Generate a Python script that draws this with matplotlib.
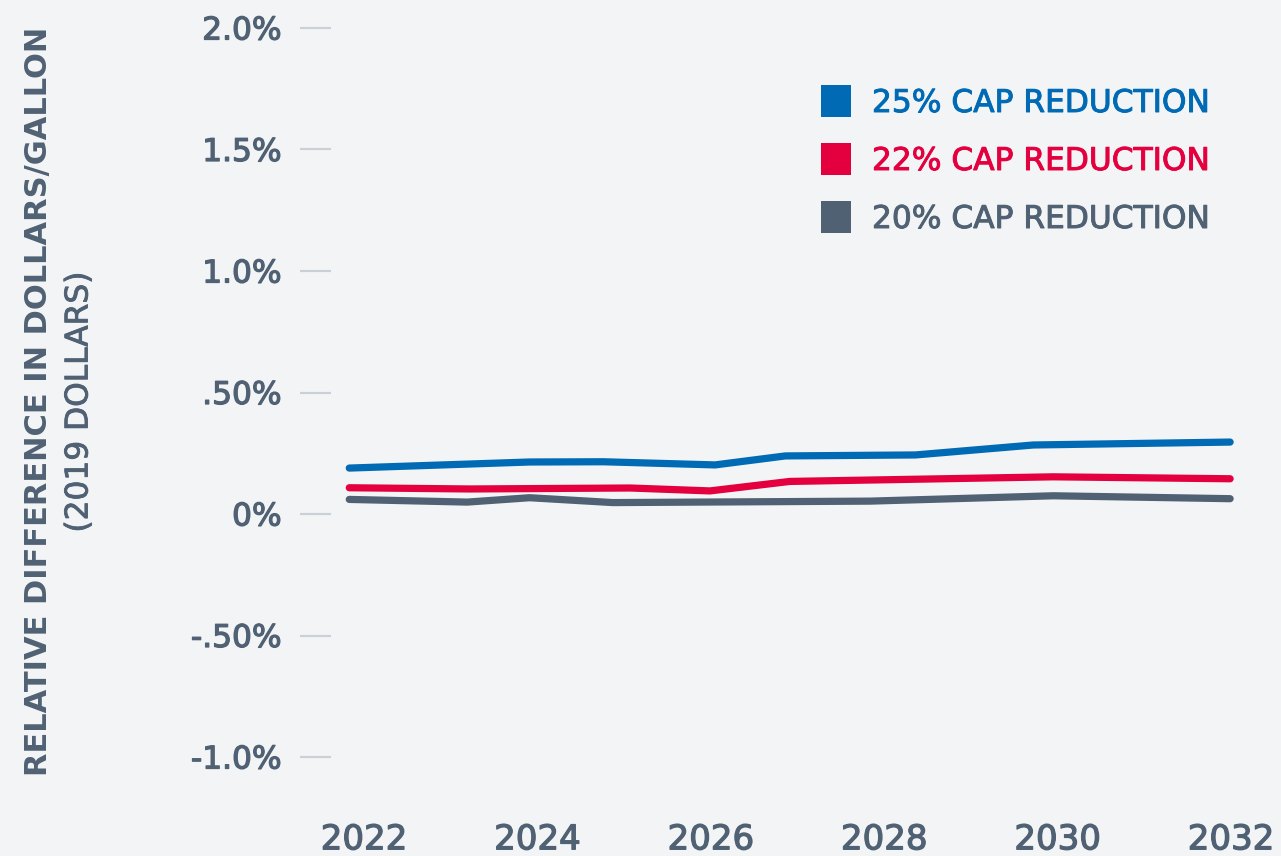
import matplotlib
matplotlib.use("Agg")
import matplotlib.pyplot as plt
import matplotlib.patheffects as pe
from matplotlib.patches import Rectangle

# ---- data ----
years_25 = [2021.83, 2023.91, 2024.76, 2026.05, 2026.86, 2028.36, 2029.72, 2031.99]
vals_25 = [0.189, 0.214, 0.215, 0.202, 0.239, 0.243, 0.284, 0.296]
years_22 = [2021.83, 2023.22, 2025.07, 2025.99, 2026.91, 2029.95, 2031.99]
vals_22 = [0.108, 0.103, 0.107, 0.095, 0.134, 0.153, 0.145]
years_20 = [2021.83, 2023.19, 2023.91, 2024.87, 2027.84, 2029.95, 2031.99]
vals_20 = [0.060, 0.049, 0.067, 0.047, 0.053, 0.075, 0.063]

series_labels = ["25% CAP REDUCTION", "22% CAP REDUCTION", "20% CAP REDUCTION"]
colors = ["#006AB4", "#E4003F", "#4F6173"]

x_ticks = [2022, 2024, 2026, 2028, 2030, 2032]
x_ticklabels = ["2022", "2024", "2026", "2028", "2030", "2032"]
y_ticks = [-1.0, -0.5, 0.0, 0.5, 1.0, 1.5, 2.0]
y_ticklabels = ["-1.0%", "-.50%", "0%", ".50%", "1.0%", "1.5%", "2.0%"]

ylabel1 = "RELATIVE DIFFERENCE IN DOLLARS/GALLON"
ylabel2 = "(2019 DOLLARS)"

FONT = "DejaVu Sans"
BG = "#F3F4F6"
TXT = "#4F6173"
TICK = "#C9D0D7"

def heavy(color, w=0.9):
    return [pe.withStroke(linewidth=w, foreground=color)]

W, H = 1281, 856
fig = plt.figure(figsize=(W / 100, H / 100), dpi=100, facecolor=BG)
ax_l, ax_r, ax_t, ax_b = 331, 1281, 10, 790
ax = fig.add_axes([ax_l / W, (H - ax_b) / H, (ax_r - ax_l) / W, (ax_b - ax_t) / H])
ax.set_facecolor(BG)

for xs, ys, c, lab in zip([years_25, years_22, years_20], [vals_25, vals_22, vals_20], colors, series_labels):
    ax.plot(xs, ys, color=c, lw=5.2, solid_capstyle="round", solid_joinstyle="round", label=lab)

# pixel mapping: year = 2022 + (px-364)/86.7 ; value = (514-py)/243
ax.set_xlim(2022 + (ax_l - 364) / 86.7, 2022 + (ax_r - 364) / 86.7)
ax.set_ylim((514 - ax_b) / 243, (514 - ax_t) / 243)

for s in ax.spines.values():
    s.set_visible(False)

ax.set_yticks(y_ticks)
ax.set_yticklabels(y_ticklabels, fontname=FONT, fontsize=22.5, color=TXT)
ax.tick_params(axis="y", length=22.5, width=1.6, color=TICK, pad=13)

ax.set_xticks(x_ticks)
ax.set_xticklabels(x_ticklabels, fontname=FONT, fontsize=24.5, color=TXT)
ax.tick_params(axis="x", length=0, pad=24)

for t in ax.get_yticklabels() + ax.get_xticklabels():
    t.set_path_effects(heavy(TXT))

# y-axis titles
fig.text(39 / W, 1 - 401 / H, ylabel1, rotation=90, ha="center", va="center",
         fontname=FONT, fontweight="bold", fontsize=22, color=TXT)
fig.text(79 / W, 1 - 402 / H, ylabel2, rotation=90, ha="center", va="center",
         fontname=FONT, fontsize=22.5, color=TXT, path_effects=heavy(TXT, 0.6))

# legend (manual)
row_y = [101, 159, 217]
for ry, c, lab in zip(row_y, colors, series_labels):
    fig.patches.append(Rectangle((821 / W, 1 - (ry + 16) / H), 30 / W, 32 / H,
                                 transform=fig.transFigure, facecolor=c, edgecolor="none"))
    fig.text(872 / W, 1 - (ry + 11) / H, lab, ha="left", va="baseline",
             fontname=FONT, fontsize=22.5, color=c, path_effects=heavy(c, 0.7))

fig.savefig("out.png", dpi=100, facecolor=BG)
